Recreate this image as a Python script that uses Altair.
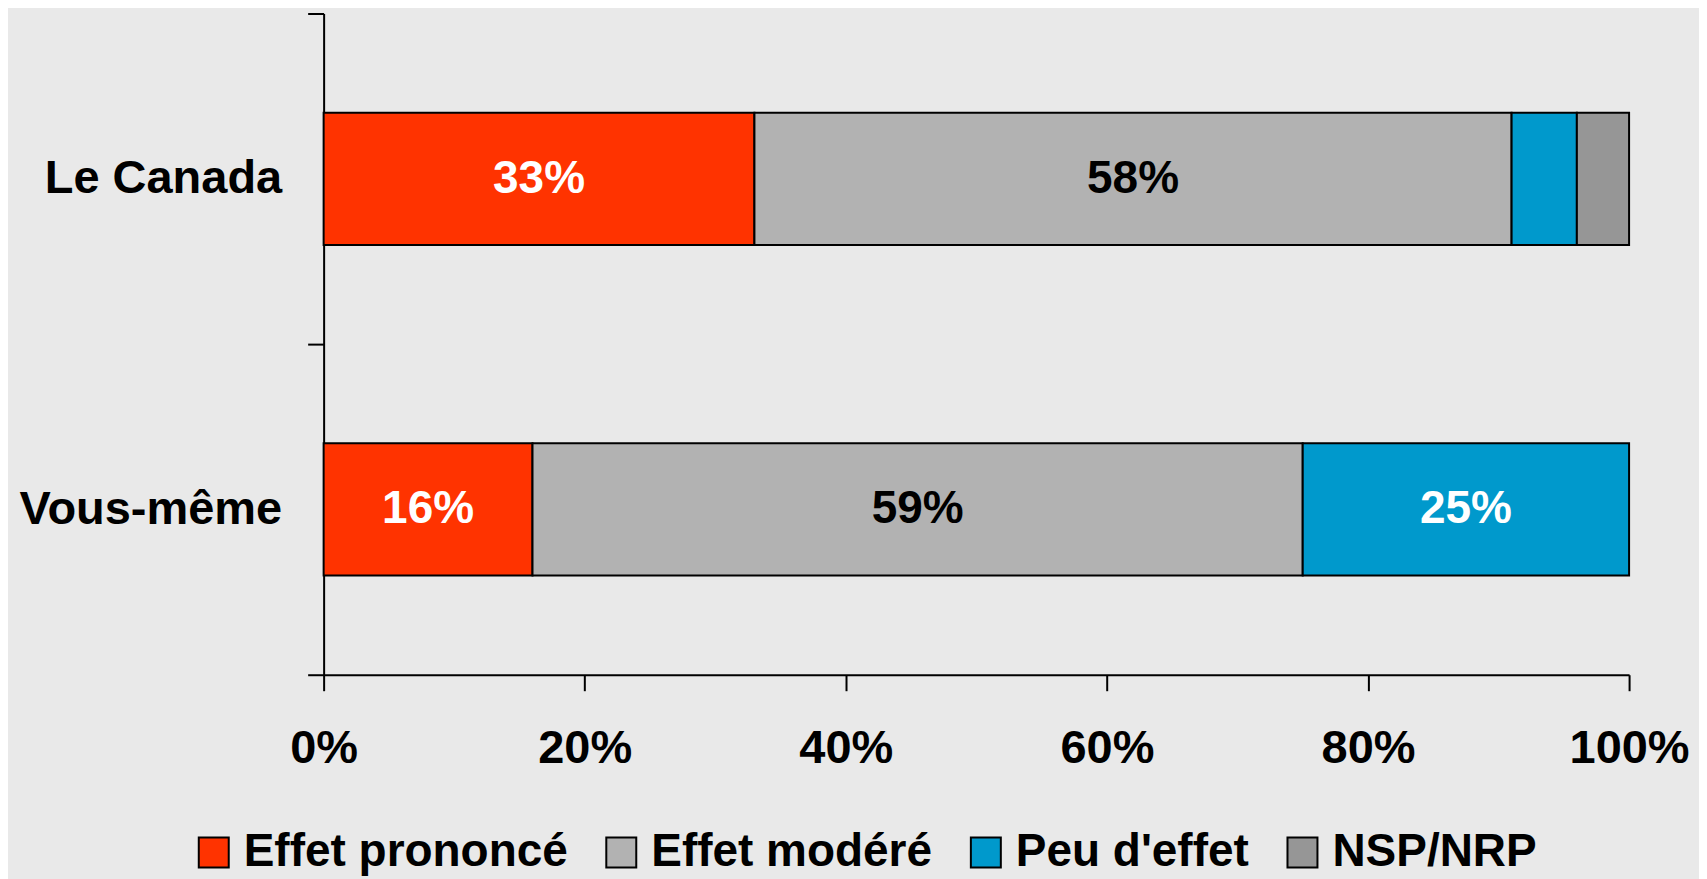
import altair as alt
import pandas as pd

groups = ["Le Canada", "Vous-même"]
categories = ["Effet prononcé", "Effet modéré", "Peu d'effet", "NSP/NRP"]
colors = ["#FF3300", "#B2B2B2", "#0099CC", "#969696"]
canada = [33, 58, 5, 4]
vous = [16, 59, 25, 0]
x_ticks = [0, 20, 40, 60, 80, 100]

rows = []
for g, vals in zip(groups, [canada, vous]):
    for i, (c, v) in enumerate(zip(categories, vals)):
        rows.append({"group": g, "cat": c, "order": i, "value": v})
df = pd.DataFrame(rows)

FONT = "Liberation Sans"

base = alt.Chart(df).transform_filter(alt.datum.value > 0).transform_stack(
    stack="value", groupby=["group"], as_=["x0", "x1"], sort=[alt.SortField("order")]
)

yenc = alt.Y(
    "group:N",
    sort=groups,
    scale=alt.Scale(domain=groups, paddingInner=0, paddingOuter=0),
    axis=alt.Axis(
        title=None, labelFontSize=47, labelFont=FONT, labelFontWeight="bold",
        labelColor="black", tickBand="extent", tickSize=16, tickWidth=2,
        tickColor="black", domainColor="black", domainWidth=2, labelPadding=26,
        labelLimit=0,
    ),
)

bars = base.mark_bar(stroke="black", strokeWidth=2, height=alt.RelativeBandSize(0.4)).encode(
    x=alt.X(
        "x0:Q",
        scale=alt.Scale(domain=[0, 100], nice=False),
        axis=alt.Axis(
            values=x_ticks, labelExpr="datum.value + '%'", title=None,
            labelFontSize=47, labelFont=FONT, labelFontWeight="bold",
            labelColor="black", tickSize=16, tickWidth=2, tickColor="black",
            domainColor="black", domainWidth=2, labelPadding=35, grid=False,
            labelFlush=False,
        ),
    ),
    x2="x1:Q",
    y=yenc,
    color=alt.Color(
        "cat:N",
        scale=alt.Scale(domain=categories, range=colors),
        legend=alt.Legend(title=None),
    ),
)

labels = base.transform_filter(alt.datum.value >= 10).transform_calculate(
    mid="(datum.x0 + datum.x1) / 2", label="datum.value + '%'"
).mark_text(fontSize=46, font=FONT, fontWeight="bold", baseline="middle", align="center").encode(
    x="mid:Q",
    y=alt.Y("group:N", sort=groups),
    text="label:N",
    color=alt.condition(alt.datum.cat == "Effet modéré", alt.value("black"), alt.value("white")),
)

chart = alt.layer(bars, labels).properties(
    width=1307, height=662,
    autosize=alt.AutoSizeParams(type="none"),
    padding={"left": 316, "top": 5, "right": 70, "bottom": 204},
    background="#e9e9e9",
).configure_view(stroke=None).configure_legend(
    orient="none", legendX=-133, legendY=817, direction="horizontal",
    symbolType="square", symbolSize=900, symbolStrokeColor="black",
    symbolStrokeWidth=2, symbolOpacity=1, labelFontSize=46, labelFont=FONT,
    labelFontWeight="bold", labelColor="black", columnPadding=30,
    labelOffset=7, labelLimit=0,
)

chart.save("out.html", embed_options={"renderer": "svg", "actions": False})
